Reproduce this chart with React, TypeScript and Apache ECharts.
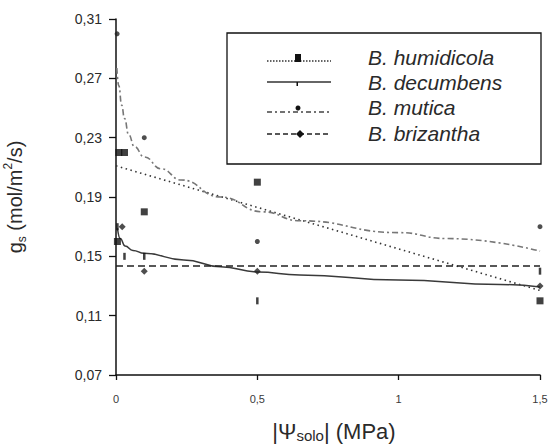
import React, { useEffect, useRef } from "react";
import * as echarts from "echarts";

// ---- data ----
const xTicks = [0, 0.5, 1, 1.5];
const yTicks = [0.07, 0.11, 0.15, 0.19, 0.23, 0.27, 0.31];

const seriesNames = ["B. humidicola", "B. decumbens", "B. mutica", "B. brizantha"];

// observed points [|Ψsolo| (MPa), gs]
const humidicolaPts = [[0.01, 0.22], [0.03, 0.22], [0.005, 0.16], [0.1, 0.18], [0.5, 0.2], [1.5, 0.12]];
const decumbensPts = [[0.005, 0.17], [0.03, 0.15], [0.1, 0.15], [0.5, 0.12], [1.5, 0.14]];
const muticaPts = [[0.004, 0.3], [0.1, 0.23], [0.5, 0.16], [1.5, 0.17]];
const brizanthaPts = [[0.022, 0.17], [0.1, 0.14], [0.5, 0.14], [1.5, 0.13]];

// fitted curves
const humidicolaFit = [[0, 0.211], [1.5, 0.127]];
const decumbensFit = [
  [0.005, 0.169], [0.015, 0.162], [0.032, 0.157], [0.06, 0.154], [0.1, 0.152], [0.24, 0.1476],
  [0.37, 0.143], [0.5, 0.1395], [0.65, 0.1375], [1.0, 0.134], [1.36, 0.131], [1.5, 0.1294],
];
const muticaFit = [
  [0.003, 0.277], [0.01, 0.265], [0.02, 0.252], [0.03, 0.243], [0.045, 0.232], [0.065, 0.224],
  [0.1, 0.217], [0.16, 0.209], [0.23, 0.2015], [0.37, 0.19], [0.52, 0.18], [0.65, 0.174],
  [1.0, 0.166], [1.17, 0.162], [1.5, 0.1535],
];
const brizanthaFit = [[0, 0.1435], [1.5, 0.1435]];

const FONT = "Liberation Sans, Arial, sans-serif";
const TXT = "#2a2a2a";

export default function App() {
  const ref = useRef<HTMLDivElement>(null);

  useEffect(() => {
    if (!ref.current) return;
    const chart = echarts.init(ref.current, undefined, { renderer: "svg" });

    const lineBase = { type: "line", symbol: "none", silent: true, z: 2 } as any;

    const legendRows = [
      { y: 57, lineY: 61, dash: [1.5, 1.5], color: "#333" },
      { y: 82, lineY: 82, dash: null, color: "#333" },
      { y: 107, lineY: 112, dash: [5, 3, 2, 3], color: "#444" },
      { y: 133, lineY: 134, dash: [5, 3], color: "#222" },
    ];

    const graphic: any[] = [
      {
        type: "rect",
        shape: { x: 227, y: 33, width: 314, height: 131 },
        style: { fill: "#fff", stroke: "#111", lineWidth: 1.3 },
        z: 10,
      },
    ];
    legendRows.forEach((r, i) => {
      graphic.push({
        type: "line",
        shape: { x1: 267, y1: r.lineY, x2: 331, y2: r.lineY },
        style: { stroke: r.color, lineWidth: 1.3, lineDash: r.dash || undefined },
        z: 11,
      });
      graphic.push({
        type: "text",
        x: 368,
        y: r.y,
        style: {
          text: seriesNames[i],
          font: `italic 21px ${FONT}`,
          fill: TXT,
          verticalAlign: "middle",
        },
        z: 11,
      });
    });
    // legend markers
    graphic.push({ type: "rect", shape: { x: 295, y: 54, width: 6, height: 8 }, style: { fill: "#111" }, z: 12 });
    graphic.push({ type: "rect", shape: { x: 296.5, y: 82, width: 1.5, height: 4 }, style: { fill: "#111" }, z: 12 });
    graphic.push({ type: "circle", shape: { cx: 298, cy: 108, r: 2.5 }, style: { fill: "#111" }, z: 12 });
    graphic.push({
      type: "polygon",
      shape: { points: [[300, 130], [304, 134], [300, 138], [296, 134]] },
      style: { fill: "#111" },
      z: 12,
    });

    chart.setOption({
      animation: false,
      backgroundColor: "#fff",
      grid: { left: 116, right: 9, top: 19, bottom: 73, containLabel: false, outerBoundsMode: "none" },
      xAxis: {
        type: "value",
        min: 0,
        max: 1.5,
        interval: 0.5,
        axisLine: { show: true, lineStyle: { color: "#111", width: 1.5 } },
        axisTick: { show: true, length: 5, inside: false, lineStyle: { color: "#111", width: 1.3 } },
        splitLine: { show: false },
        axisLabel: {
          color: "#3a3a3a",
          fontFamily: FONT,
          fontSize: 11,
          margin: 18,
          formatter: (v: number) => (xTicks.includes(v) ? String(v).replace(".", ",") : ""),
        },
        name: "|Ψ{sub|solo}| (MPa)",
        nameLocation: "middle",
        nameGap: 44,
        nameTextStyle: {
          color: TXT,
          fontFamily: FONT,
          fontSize: 22,
          padding: [0, 0, 0, 12],
          rich: {
            sub: { fontSize: 15, fontFamily: FONT, color: TXT, verticalAlign: "bottom", padding: [9, 0, 0, 0] },
          },
        },
      },
      yAxis: {
        type: "value",
        min: 0.07,
        max: 0.31,
        interval: 0.04,
        axisLine: { show: true, lineStyle: { color: "#111", width: 1.5 } },
        axisTick: { show: true, length: 7, inside: false, lineStyle: { color: "#111", width: 1.3 } },
        splitLine: { show: false },
        axisLabel: {
          color: TXT,
          fontFamily: FONT,
          fontSize: 14,
          margin: 14,
          formatter: (v: number) => {
            const s = v.toFixed(2);
            return yTicks.some((t) => Math.abs(t - v) < 1e-6) ? s.replace(".", ",") : "";
          },
        },
        name: "{a|g}{sub|s}{a| (mol/m}{sup|2}{a|/s)}",
        nameLocation: "middle",
        nameGap: 88,
        nameTextStyle: {
          color: TXT,
          fontFamily: FONT,
          fontSize: 20,
          rich: {
            a: { fontSize: 20, fontFamily: FONT, color: TXT, lineHeight: 26 },
            sub: { fontSize: 12, fontFamily: FONT, color: TXT, lineHeight: 26, verticalAlign: "bottom", padding: [8, 0, 0, 0] },
            sup: { fontSize: 12, fontFamily: FONT, color: TXT, lineHeight: 26, verticalAlign: "top", padding: [0, 0, 8, 0] },
          },
        },
      },
      series: [
        {
          ...lineBase,
          name: "humidicola fit",
          data: humidicolaFit,
          lineStyle: { color: "#333", width: 1.6, type: [1.5, 3.5] },
        },
        {
          ...lineBase,
          name: "decumbens fit",
          data: decumbensFit,
          smooth: true,
          smoothMonotone: "x",
          lineStyle: { color: "#3a3a3a", width: 1.5, type: "solid" },
        },
        {
          ...lineBase,
          name: "mutica fit",
          data: muticaFit,
          smooth: true,
          smoothMonotone: "x",
          lineStyle: { color: "#777", width: 1.6, type: [6, 3, 2, 3] },
        },
        {
          ...lineBase,
          name: "brizantha fit",
          data: brizanthaFit,
          lineStyle: { color: "#222", width: 1.5, type: [7, 4] },
        },
        {
          type: "scatter",
          name: seriesNames[0],
          data: humidicolaPts,
          symbol: "rect",
          symbolSize: [7, 7],
          itemStyle: { color: "#111" },
          z: 3,
        },
        {
          type: "scatter",
          name: seriesNames[1],
          data: decumbensPts,
          symbol: "rect",
          symbolSize: [2.5, 7],
          itemStyle: { color: "#111" },
          z: 3,
        },
        {
          type: "scatter",
          name: seriesNames[2],
          data: muticaPts,
          symbol: "circle",
          symbolSize: 5,
          itemStyle: { color: "#222" },
          z: 3,
        },
        {
          type: "scatter",
          name: seriesNames[3],
          data: brizanthaPts,
          symbol: "diamond",
          symbolSize: [7, 7],
          itemStyle: { color: "#222" },
          z: 3,
        },
      ],
      graphic,
    });

    return () => chart.dispose();
  }, []);

  return (
    <div
      ref={ref}
      style={{ width: 549, height: 448, position: "fixed", left: 0, top: 0, background: "#fff" }}
    />
  );
}
